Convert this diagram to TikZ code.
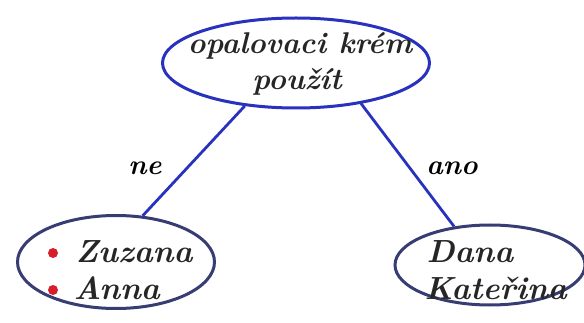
\documentclass[tikz,border=0pt]{standalone}
\usetikzlibrary{shapes.geometric}
\definecolor{penblue}{RGB}{40,50,190}
\definecolor{pendark}{RGB}{55,60,115}
\definecolor{penred}{RGB}{215,30,45}
\begin{document}
\begin{tikzpicture}[x=1pt,y=-1pt,
  bubble/.style={ellipse, draw, line width=3pt, inner sep=0pt, align=center},
  hand/.style={font=\fontsize{32}{38}\selectfont\bfseries\itshape, text=black!85},
  link/.style={draw=penblue, line width=2.8pt},
  lbl/.style={font=\fontsize{28}{32}\selectfont\bfseries\itshape, text=black}]
\useasboundingbox (0,0) rectangle (584,323);
\node[bubble, draw=penblue, minimum width=267pt, minimum height=90pt] (top) at (296,63) {};
\node[hand, font=\fontsize{30}{36}\selectfont\bfseries\itshape] (t1) at (300,46) {opalovaci krém};
\node[hand, font=\fontsize{30}{36}\selectfont\bfseries\itshape] (t2) at (297,82) {použít};
\node[bubble, draw=pendark, minimum width=197pt, minimum height=93pt] (left) at (116,262) {};
\node[hand, anchor=west] (l1) at (72,252) {Zuzana};
\node[hand, anchor=west] (l2) at (70,288) {Anna};
\fill[penred] (53,253) circle (5) node (b1) {};
\fill[penred] (53,290) circle (5) node (b2) {};
\node[bubble, draw=pendark, minimum width=190pt, minimum height=80pt] (right) at (490,265) {};
\node[hand, anchor=west] (r1) at (423,252) {Dana};
\node[hand, anchor=west] (r2) at (421,288) {Kateřina};
\draw[link] (top.220) -- (left.60);
\draw[link] (top.328) -- (right.133);
\node[lbl] (ne) at (145,168) {ne};
\node[lbl] (ano) at (452,168) {ano};
\end{tikzpicture}
\end{document}
